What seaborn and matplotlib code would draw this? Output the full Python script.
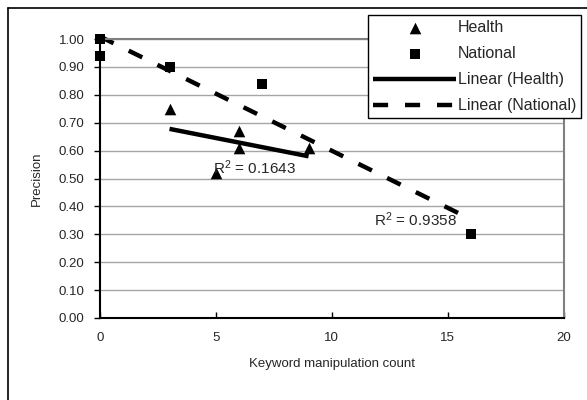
import numpy as np
import pandas as pd
import seaborn as sns
import matplotlib.pyplot as plt
from matplotlib.lines import Line2D

# Data
health_x = [3, 5, 6, 6, 9]
health_y = [0.75, 0.52, 0.67, 0.61, 0.61]
national_x = [0, 0, 3, 7, 16]
national_y = [1.00, 0.94, 0.90, 0.84, 0.30]
r2_health = "R$^2$ = 0.1643"
r2_national = "R$^2$ = 0.9358"
y_ticks = [0.0, 0.1, 0.2, 0.3, 0.4, 0.5, 0.6, 0.7, 0.8, 0.9, 1.0]
x_ticks = [0, 5, 10, 15, 20]


def main():
    sns.set_style("white")
    plt.rcParams['font.family'] = ['Liberation Sans', 'DejaVu Sans']
    plt.rcParams['mathtext.fontset'] = 'custom'
    plt.rcParams['mathtext.rm'] = 'Liberation Sans'
    plt.rcParams['mathtext.it'] = 'Liberation Sans'
    plt.rcParams['mathtext.default'] = 'regular'

    df_h = pd.DataFrame({'x': health_x, 'y': health_y})
    df_n = pd.DataFrame({'x': national_x, 'y': national_y})

    fig = plt.figure(figsize=(5.87, 4.0), dpi=100)
    ax = fig.add_axes([100 / 587, 1 - 318 / 400, 463.5 / 587, 279 / 400])

    # grid first
    for v in y_ticks:
        ax.axhline(v, color='#a6a6a6', lw=1.0, zorder=0)

    # trend lines
    sns.regplot(data=df_h, x='x', y='y', ax=ax, scatter=False, ci=None,
                truncate=True, label='Linear (Health)',
                line_kws=dict(color='black', lw=3.2, solid_capstyle='butt', zorder=2))
    sns.regplot(data=df_n, x='x', y='y', ax=ax, scatter=False, ci=None,
                truncate=True, label='Linear (National)',
                line_kws=dict(color='black', lw=3.2, linestyle=(0, (3.4, 3.8)),
                              clip_on=False, zorder=2))

    # points
    sns.scatterplot(data=df_h, x='x', y='y', ax=ax, marker='^', s=70,
                    color='black', edgecolor='black', linewidth=0,
                    label='Health', zorder=3, clip_on=False)
    sns.scatterplot(data=df_n, x='x', y='y', ax=ax, marker='s', s=60,
                    color='black', edgecolor='black', linewidth=0,
                    label='National', zorder=3, clip_on=False)

    ax.text(4.88, 0.54, r2_health, fontsize=11, va='center', ha='left', zorder=4)
    ax.text(11.84, 0.352, r2_national, fontsize=11, va='center', ha='left', zorder=4)

    ax.set_xlim(0, 20)
    ax.set_ylim(0, 1.0)
    ax.set_xticks(x_ticks)
    ax.set_yticks(y_ticks)
    ax.set_yticklabels([f"{v:.2f}" for v in y_ticks])
    ax.tick_params(axis='y', direction='out', length=4, width=1, color='black',
                   pad=7, labelsize=9.5, left=True)
    ax.tick_params(axis='x', direction='in', length=4, width=1, color='black',
                   pad=10, labelsize=9.5, bottom=True)

    ax.set_xlabel('Keyword manipulation count', fontsize=9.5)
    ax.set_ylabel('Precision', fontsize=9.5)
    ax.xaxis.set_label_coords(0.5, -0.143)
    ax.yaxis.set_label_coords(-0.123, 0.5)

    for side in ['left', 'bottom']:
        ax.spines[side].set_color('black')
        ax.spines[side].set_linewidth(1.5)
    for side in ['top', 'right']:
        ax.spines[side].set_color('#808080')
        ax.spines[side].set_linewidth(1.5)

    # legend in the reference order
    handles, labels = ax.get_legend_handles_labels()
    order = ['Health', 'National', 'Linear (Health)', 'Linear (National)']
    hd = dict(zip(labels, handles))
    leg = ax.legend([hd[k] for k in order], order, loc='upper right',
                    bbox_to_anchor=(581 / 587, 1 - 15 / 400),
                    bbox_transform=fig.transFigure, borderaxespad=0,
                    frameon=True, fancybox=False, framealpha=1,
                    edgecolor='black', fontsize=11.5, handlelength=5.2,
                    handletextpad=0.1, labelspacing=0.7, borderpad=0.3)
    leg.get_frame().set_linewidth(1.0)

    # outer chart border (only top and left show in the crop)
    fig.add_artist(Line2D([7.5 / 587, 7.5 / 587], [0, 1 - 7.5 / 400],
                          color='black', lw=1.2, transform=fig.transFigure))
    fig.add_artist(Line2D([7.5 / 587, 1], [1 - 7.5 / 400, 1 - 7.5 / 400],
                          color='black', lw=1.2, transform=fig.transFigure))

    fig.savefig('out.png', dpi=100)


if __name__ == "__main__":
    main()
